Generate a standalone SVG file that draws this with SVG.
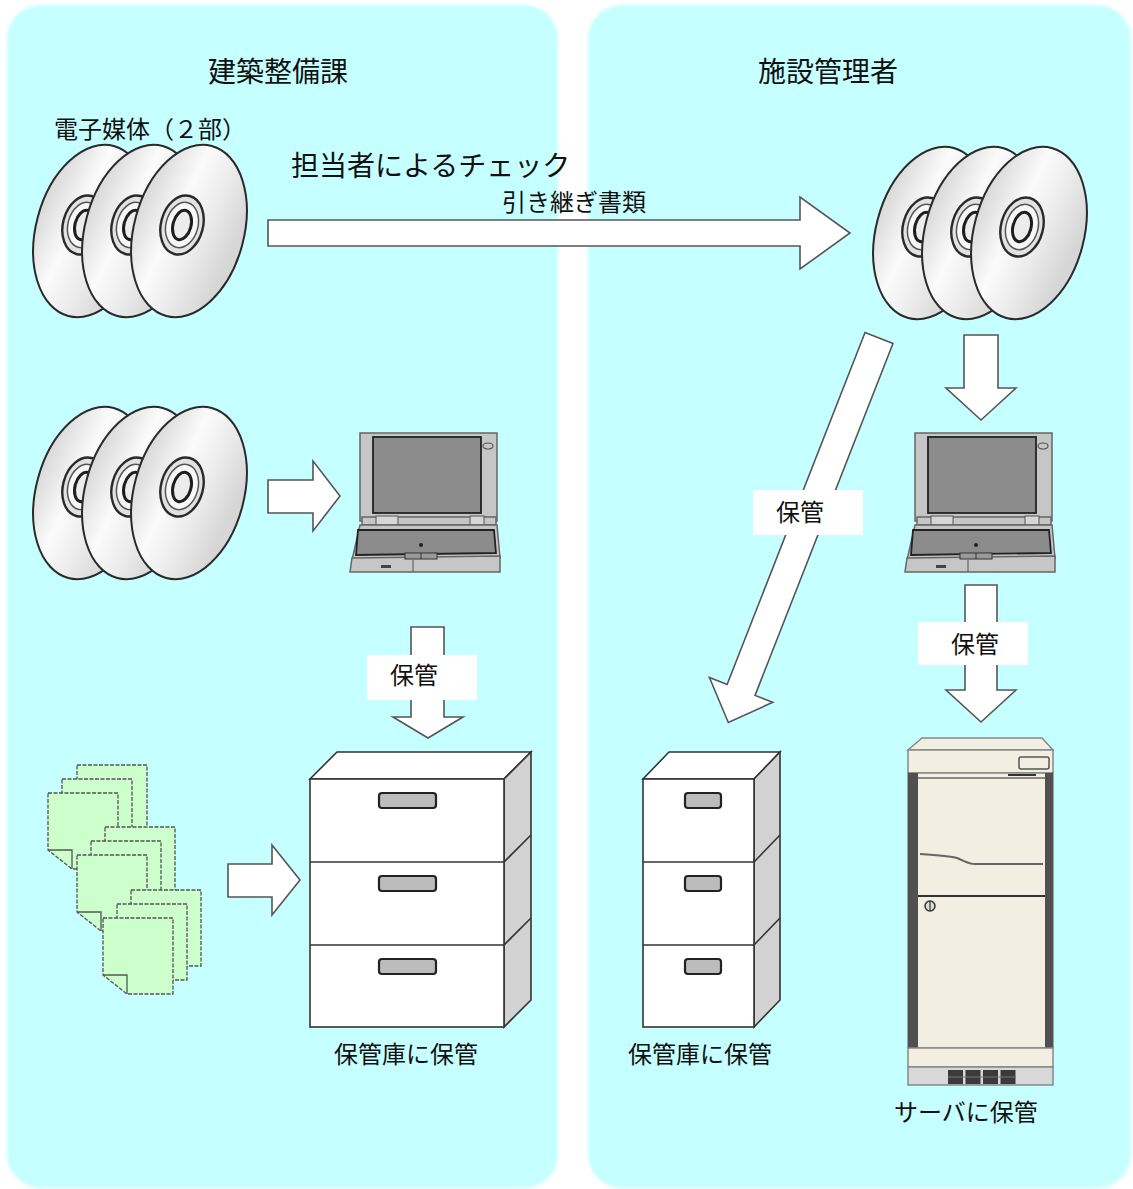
<svg xmlns="http://www.w3.org/2000/svg" xmlns:xlink="http://www.w3.org/1999/xlink" width="1133" height="1189" viewBox="0 0 1133 1189">
  <style>
    .panel { fill: #c6ffff; }
    .ttl { font-family: "Noto Sans CJK JP", "Noto Sans", sans-serif; font-size: 28px; fill: #111; }
    .lbl { font-family: "Noto Sans CJK JP", "Noto Sans", sans-serif; font-size: 24px; fill: #111; }
    .arrow { fill: #fff; stroke: #555; stroke-width: 1.6; stroke-linejoin: miter; }
    .tag { fill: #fff; }
    .disc { stroke: #2a2a2a; stroke-width: 2; fill: url(#discFill); }
    .ring1 { fill: #e2e2e2; stroke: #2a2a2a; stroke-width: 2.4; }
    .ring2 { fill: #f8f8f8; stroke: #555; stroke-width: 1.5; }
    .ring3 { fill: #ececec; stroke: #1e1e1e; stroke-width: 3; }
    .cabF { fill: #fff; stroke: #333; stroke-width: 1.6; }
    .cabS { fill: #d2d2d2; stroke: #333; stroke-width: 1.6; }
    .handle { fill: #bcbcbc; stroke: #222; stroke-width: 2.2; }
    .page { fill: #ccffcc; stroke: #555; stroke-width: 1.3; stroke-dasharray: 4 1.5; }
    .fold { fill: none; stroke: #555; stroke-width: 1.3; }
    .lapL { fill: #c6c6c6; stroke: #666; stroke-width: 1.5; }
    .lapD { fill: #8c8c8c; stroke: #222; stroke-width: 1.8; }
    .srv { fill: #f2eee2; stroke: #888; stroke-width: 1.5; }
  </style>
  <defs>
    <filter id="soft" x="-5%" y="-5%" width="110%" height="110%">
      <feGaussianBlur stdDeviation="1.6"/>
    </filter>
    <linearGradient id="discFill" x1="0" y1="0" x2="1" y2="0.3">
      <stop offset="0" stop-color="#cdcdcd"/>
      <stop offset="0.45" stop-color="#fbfbfb"/>
      <stop offset="0.7" stop-color="#ececec"/>
      <stop offset="1" stop-color="#d6d6d6"/>
    </linearGradient>

    <!-- one disc with its centre ring, drawn around (0,0) -->
    <g id="disc">
      <ellipse class="disc" cx="0" cy="0" rx="55" ry="88" transform="rotate(15)"/>
      <g transform="translate(-7,-6) rotate(15)">
        <ellipse class="ring1" cx="0" cy="0" rx="21" ry="30"/>
        <ellipse class="ring2" cx="0" cy="0" rx="16" ry="23"/>
        <ellipse class="ring3" cx="0" cy="0" rx="9" ry="15"/>
      </g>
    </g>
    <!-- stack of three discs -->
    <g id="discStack">
      <use xlink:href="#disc" transform="translate(91,231)"/>
      <use xlink:href="#disc" transform="translate(140,231)"/>
      <use xlink:href="#disc" transform="translate(189,231)"/>
    </g>

    <!-- notebook computer -->
    <g id="laptop">
      <rect class="lapL" x="360" y="433" width="137" height="88"/>
      <rect class="lapD" x="373" y="437" width="108" height="76"/>
      <ellipse cx="488" cy="446" rx="5" ry="3" fill="none" stroke="#555" stroke-width="1.2"/>
      <rect class="lapL" x="362" y="517" width="134" height="8"/>
      <rect x="376" y="516" width="22" height="9" fill="#d6d6d6" stroke="#555" stroke-width="1"/>
      <rect x="470" y="516" width="14" height="9" fill="#d6d6d6" stroke="#555" stroke-width="1"/>
      <polygon class="lapL" points="360,525 497,525 500,558 352,560"/>
      <polygon class="lapD" points="358,530 494,530 496,553 356,555" stroke-width="1.3"/>
      <polygon class="lapL" points="352,558 500,556 500,572 350,572"/>
      <rect x="405" y="553" width="32" height="6" fill="#9a9a9a" stroke="#333" stroke-width="1"/>
      <line x1="421" y1="553" x2="421" y2="559" stroke="#333" stroke-width="1"/>
      <line x1="413" y1="560" x2="413" y2="572" stroke="#555" stroke-width="1"/>
      <circle cx="421" cy="545" r="2" fill="#222"/>
      <rect x="381" y="565" width="10" height="3" fill="#444"/>
    </g>

    <!-- sheet of paper with a folded corner -->
    <g id="page">
      <path class="page" d="M0,0 H70 V76 H24 L0,57 Z"/>
      <path class="fold" d="M0,57 H24 V76"/>
    </g>
  </defs>

  <!-- background panels -->
  <g id="panels" filter="url(#soft)">
    <rect class="panel" x="7" y="5" width="551" height="1183" rx="34" ry="34"/>
    <rect class="panel" x="588" y="5" width="543" height="1183" rx="34" ry="34"/>
  </g>

  <!-- section titles -->
  <g id="title-left"><text class="ttl" x="278" y="82" text-anchor="middle">建築整備課</text></g>
  <g id="title-right"><text class="ttl" x="828" y="82" text-anchor="middle">施設管理者</text></g>

  <!-- media handed over -->
  <g id="media-source">
    <text class="lbl" x="54" y="138">電子媒体（２部）</text>
    <use xlink:href="#discStack"/>
  </g>
  <g id="media-check">
    <use xlink:href="#discStack" transform="translate(0,262)"/>
  </g>
  <g id="media-received">
    <use xlink:href="#discStack" transform="translate(840,2)"/>
  </g>

  <!-- computers -->
  <g id="laptop-left"><use xlink:href="#laptop"/></g>
  <g id="laptop-right"><use xlink:href="#laptop" transform="translate(555,0)"/></g>

  <!-- paper documents -->
  <g id="documents">
    <use xlink:href="#page" transform="translate(77,765)"/>
    <use xlink:href="#page" transform="translate(62,779)"/>
    <use xlink:href="#page" transform="translate(48,793)"/>
    <use xlink:href="#page" transform="translate(105,827)"/>
    <use xlink:href="#page" transform="translate(91,841)"/>
    <use xlink:href="#page" transform="translate(77,855)"/>
    <use xlink:href="#page" transform="translate(131,890)"/>
    <use xlink:href="#page" transform="translate(117,904)"/>
    <use xlink:href="#page" transform="translate(103,918)"/>
  </g>

  <!-- storage cabinet, left section -->
  <g id="cabinet-left">
    <polygon class="cabF" points="310,779 337,752 531,752 504,779"/>
    <polygon class="cabS" points="504,779 531,752 531,1000 504,1027"/>
    <rect class="cabF" x="310" y="779" width="194" height="248"/>
    <line x1="310" y1="862" x2="504" y2="862" stroke="#333" stroke-width="1.6"/>
    <line x1="310" y1="945" x2="504" y2="945" stroke="#333" stroke-width="1.6"/>
    <line x1="504" y1="862" x2="531" y2="835" stroke="#333" stroke-width="1.6"/>
    <line x1="504" y1="945" x2="531" y2="918" stroke="#333" stroke-width="1.6"/>
    <rect class="handle" x="379" y="793" width="57" height="15" rx="3"/>
    <rect class="handle" x="379" y="876" width="57" height="15" rx="3"/>
    <rect class="handle" x="379" y="959" width="57" height="15" rx="3"/>
    <text class="lbl" x="406" y="1063" text-anchor="middle">保管庫に保管</text>
  </g>

  <!-- storage cabinet, right section -->
  <g id="cabinet-right">
    <polygon class="cabF" points="643,779 669,752 780,752 754,779"/>
    <polygon class="cabS" points="754,779 780,752 780,1000 754,1027"/>
    <rect class="cabF" x="643" y="779" width="111" height="248"/>
    <line x1="643" y1="862" x2="754" y2="862" stroke="#333" stroke-width="1.6"/>
    <line x1="643" y1="945" x2="754" y2="945" stroke="#333" stroke-width="1.6"/>
    <line x1="754" y1="862" x2="780" y2="835" stroke="#333" stroke-width="1.6"/>
    <line x1="754" y1="945" x2="780" y2="918" stroke="#333" stroke-width="1.6"/>
    <rect class="handle" x="685" y="793" width="36" height="15" rx="3"/>
    <rect class="handle" x="685" y="876" width="36" height="15" rx="3"/>
    <rect class="handle" x="685" y="959" width="36" height="15" rx="3"/>
    <text class="lbl" x="700" y="1063" text-anchor="middle">保管庫に保管</text>
  </g>

  <!-- server rack -->
  <g id="server">
    <polygon class="srv" points="922,738 1042,738 1053,750 908,750"/>
    <rect class="srv" x="908" y="750" width="145" height="23"/>
    <rect x="1019" y="757" width="30" height="12" rx="2" fill="#f2eee2" stroke="#555" stroke-width="1.5"/>
    <rect class="srv" x="908" y="773" width="145" height="275"/>
    <rect x="908" y="773" width="10" height="275" fill="#505050"/>
    <rect x="1045" y="773" width="8" height="275" fill="#505050"/>
    <line x1="918" y1="778" x2="1045" y2="778" stroke="#666" stroke-width="1.5"/>
    <line x1="1008" y1="775" x2="1036" y2="775" stroke="#333" stroke-width="2"/>
    <path d="M920,854 C935,855 950,856 957,858 C965,861 968,864 975,864 L1043,864" fill="none" stroke="#666" stroke-width="2"/>
    <line x1="918" y1="896" x2="1045" y2="896" stroke="#333" stroke-width="2"/>
    <circle cx="930" cy="906" r="5" fill="#ddd" stroke="#333" stroke-width="1.5"/>
    <line x1="930" y1="901" x2="930" y2="911" stroke="#333" stroke-width="1.2"/>
    <rect class="srv" x="908" y="1048" width="145" height="19"/>
    <rect x="908" y="1067" width="145" height="18" fill="#d8d8d8" stroke="#888" stroke-width="1.5"/>
    <rect x="948" y="1070" width="15" height="14" fill="#3a3a3a"/>
    <rect x="965.5" y="1070" width="15" height="14" fill="#3a3a3a"/>
    <rect x="983" y="1070" width="15" height="14" fill="#3a3a3a"/>
    <rect x="1000.5" y="1070" width="15" height="14" fill="#3a3a3a"/>
    <line x1="948" y1="1077" x2="1016" y2="1077" stroke="#777" stroke-width="1"/>
    <text class="lbl" x="966" y="1121" text-anchor="middle">サーバに保管</text>
  </g>

  <!-- connectors -->
  <g id="connectors">
    <!-- hand-over arrow between sections -->
    <polygon class="arrow" points="268,220 800,220 800,197 850,233 800,269 800,246 268,246"/>
    <text class="ttl" x="291" y="176">担当者によるチェック</text>
    <text class="lbl" x="574" y="211" text-anchor="middle">引き継ぎ書類</text>

    <!-- discs to laptop (left) -->
    <polygon class="arrow" points="268,480 313,480 313,461 340,496 313,531 313,513 268,513"/>
    <!-- documents to cabinet -->
    <polygon class="arrow" points="228,864 272,864 272,845 300,880 272,915 272,897 228,897"/>
    <!-- laptop to cabinet (left) -->
    <polygon class="arrow" points="411,627 444,627 444,717 463,717 428,738 393,717 411,717"/>
    <rect class="tag" x="367" y="655" width="110" height="45"/>
    <text class="lbl" x="414" y="684" text-anchor="middle">保管</text>

    <!-- discs to laptop (right) -->
    <polygon class="arrow" points="964,335 998,335 998,388 1016,388 981,420 946,388 964,388"/>
    <!-- laptop to server -->
    <polygon class="arrow" points="965,585 997,585 997,690 1016,690 981,722 946,690 965,690"/>
    <rect class="tag" x="918" y="622" width="110" height="43"/>
    <text class="lbl" x="975" y="653" text-anchor="middle">保管</text>

    <!-- discs to cabinet (right), diagonal -->
    <polygon class="arrow" transform="translate(879,338) rotate(111.4)" points="0,-15 378,-15 378,-34 413,0 378,34 378,15 0,15"/>
    <rect class="tag" x="753" y="490" width="110" height="45"/>
    <text class="lbl" x="800" y="521" text-anchor="middle">保管</text>
  </g>
</svg>
